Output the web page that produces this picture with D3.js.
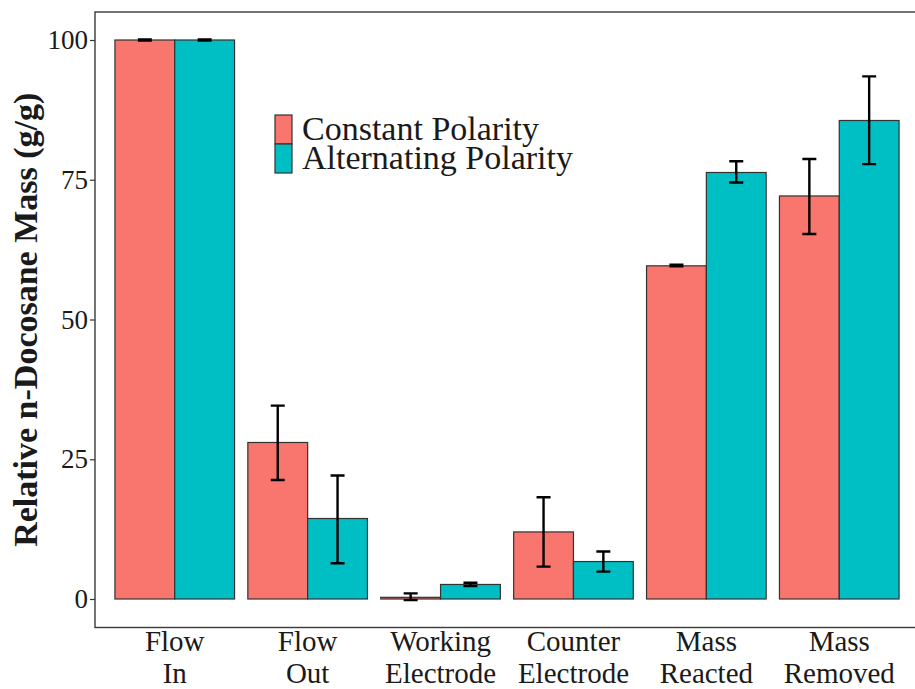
<!DOCTYPE html>
<meta charset="utf-8">
<body style="margin:0;background:#fff">
<style>
text { font-family: "Liberation Serif", "Times New Roman", serif; fill: #1a1a1a; }
.bar { stroke: #333; stroke-width: 1.2px; }
.err { stroke: #000; stroke-width: 2.4px; fill: none; }
</style>
<script src="https://d3js.org/d3.v7.min.js"></script>
<script>

var categories = ["Flow In", "Flow Out", "Working Electrode", "Counter Electrode", "Mass Reacted", "Mass Removed"];
var categoryLines = [["Flow", "In"], ["Flow", "Out"], ["Working", "Electrode"], ["Counter", "Electrode"], ["Mass", "Reacted"], ["Mass", "Removed"]];
var seriesNames = ["Constant Polarity", "Alternating Polarity"];

var constantMean = [100, 28.0, 0.3, 12.0, 59.6, 72.1];
var constantLow  = [99.9, 21.3, -0.2, 5.8, 59.5, 65.3];
var constantHigh = [100.1, 34.6, 1.0, 18.2, 59.8, 78.7];

var alternatingMean = [100, 14.4, 2.6, 6.7, 76.3, 85.6];
var alternatingLow  = [99.9, 6.4, 2.3, 4.9, 74.5, 77.8];
var alternatingHigh = [100.1, 22.1, 2.9, 8.5, 78.3, 93.5];

var yTicks = [0, 25, 50, 75, 100];
var colors = ["#F8766D", "#00BFC4"];

var width = 915, height = 689;
var panel = {left: 95, top: 12, right: 919, bottom: 627.5};

var svg = d3.select("body").append("svg")
    .attr("width", width)
    .attr("height", height);

var x = d3.scaleBand()
    .domain(categories)
    .range([panel.left, panel.right])
    .paddingInner(0.1)
    .paddingOuter(0.15);

var x1 = d3.scaleBand()
    .domain(seriesNames)
    .range([0, x.bandwidth()]);

var y = d3.scaleLinear()
    .domain([0, 100])
    .range([599, 40]);

// build rows for each bar
var rows = [];
categories.forEach(function(c, i) {
  rows.push({cat: c, s: seriesNames[0], v: constantMean[i], lo: constantLow[i], hi: constantHigh[i], col: colors[0]});
  rows.push({cat: c, s: seriesNames[1], v: alternatingMean[i], lo: alternatingLow[i], hi: alternatingHigh[i], col: colors[1]});
});

svg.selectAll(".bar")
    .data(rows)
  .enter().append("rect")
    .attr("class", "bar")
    .attr("x", function(d) { return x(d.cat) + x1(d.s); })
    .attr("width", x1.bandwidth())
    .attr("y", function(d) { return y(Math.max(d.v, 0)); })
    .attr("height", function(d) { return Math.abs(y(0) - y(d.v)); })
    .attr("fill", function(d) { return d.col; });

// error bars
var capW = 14;
var eb = svg.selectAll(".eb")
    .data(rows)
  .enter().append("g")
    .attr("transform", function(d) { return "translate(" + (x(d.cat) + x1(d.s) + x1.bandwidth() / 2) + ",0)"; });

eb.append("path")
    .attr("class", "err")
    .attr("d", function(d) {
      return "M" + (-capW / 2) + "," + y(d.hi) + "H" + (capW / 2) +
             "M0," + y(d.hi) + "V" + y(d.lo) +
             "M" + (-capW / 2) + "," + y(d.lo) + "H" + (capW / 2);
    });

// panel border
svg.append("rect")
    .attr("x", panel.left)
    .attr("y", panel.top)
    .attr("width", panel.right - panel.left)
    .attr("height", panel.bottom - panel.top)
    .attr("fill", "none")
    .attr("stroke", "#3a3a3a")
    .attr("stroke-width", 1.4);

// y axis
var yAxis = svg.append("g")
    .attr("transform", "translate(" + panel.left + ",0)")
    .call(d3.axisLeft(y).tickValues(yTicks).tickSize(5).tickPadding(2));
yAxis.select(".domain").remove();
yAxis.selectAll("line").attr("stroke", "#333").attr("stroke-width", 1.2);
yAxis.selectAll("text")
    .style("font-family", "Liberation Serif")
    .style("font-size", "27px")
    .attr("fill", "#1a1a1a");

// x labels
var xl = svg.selectAll(".xlab")
    .data(categories)
  .enter().append("text")
    .attr("text-anchor", "middle")
    .style("font-size", "29px")
    .attr("transform", function(d) { return "translate(" + (x(d) + x.bandwidth() / 2) + ",0)"; });

xl.selectAll("tspan")
    .data(function(d, i) { return categoryLines[i]; })
  .enter().append("tspan")
    .attr("x", 0)
    .attr("y", function(d, j) { return 651 + j * 32; })
    .text(function(d) { return d; });

// y title
svg.append("text")
    .attr("transform", "translate(37," + ((panel.top + panel.bottom) / 2) + ") rotate(-90)")
    .attr("text-anchor", "middle")
    .style("font-size", "34px")
    .style("font-weight", "bold")
    .text("Relative n-Docosane Mass (g/g)");

// legend
var legend = svg.append("g")
    .attr("transform", "translate(275,115)");

var lg = legend.selectAll(".key")
    .data(seriesNames)
  .enter().append("g")
    .attr("transform", function(d, i) { return "translate(0," + (i * 29) + ")"; });

lg.append("rect")
    .attr("width", 17)
    .attr("height", 29)
    .attr("fill", function(d, i) { return colors[i]; })
    .attr("stroke", "#333")
    .attr("stroke-width", 1.2);

lg.append("text")
    .attr("x", 27)
    .attr("y", 25)
    .style("font-size", "34px")
    .text(function(d) { return d; });

</script>
</body>
